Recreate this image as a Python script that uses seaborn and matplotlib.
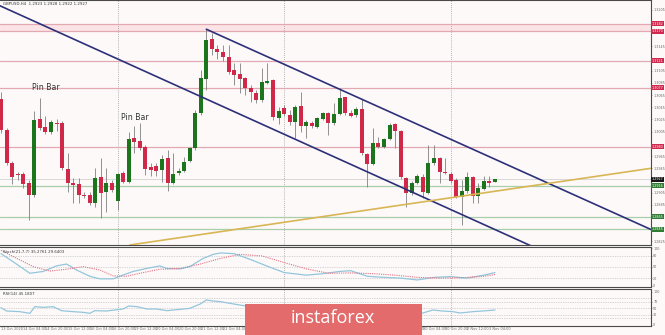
import numpy as np
import pandas as pd
import matplotlib
matplotlib.use("Agg")
import matplotlib.pyplot as plt
import matplotlib.transforms as mtransforms
from matplotlib.patches import Rectangle
import seaborn as sns

# ---------------- data ----------------
opens = [1.3059,1.3008,1.2954,1.2936,1.2936,1.2921,1.2901,1.3026,1.3013,1.3005,
         1.3019,1.3019,1.2944,1.2921,1.2919,1.2901,1.2901,1.2888,1.2931,1.2906,
         1.2921,1.2891,1.2937,1.2923,1.2995,1.2990,1.2980,1.2947,1.2949,1.2942,
         1.2962,1.2921,1.2937,1.2941,1.2957,1.2978,1.3036,1.3091,1.3157,1.3141,
         1.3136,1.3128,1.3106,1.3100,1.3093,1.3077,1.3068,1.3057,1.3085,1.3090,
         1.3027,1.3044,1.3032,1.3021,1.3047,1.3014,1.3019,1.3013,1.3026,1.3036,
         1.3019,1.3034,1.3062,1.3036,1.3032,1.3042,1.2968,1.2952,1.2986,1.2980,
         1.2993,1.3018,1.3006,1.2929,1.2904,1.2921,1.2931,1.2904,1.2954,1.2962,
         1.2939,1.2936,1.2926,1.2898,1.2908,1.2931,1.2900,1.2911,1.2924,1.2923]
highs = [1.3070,1.3011,1.2957,1.2939,1.2939,1.2926,1.3039,1.3060,1.3031,1.3024,
         1.3026,1.3023,1.2970,1.2929,1.2929,1.2906,1.2906,1.2945,1.2962,1.2945,
         1.2926,1.2937,1.2941,1.3005,1.3014,1.3019,1.2983,1.2954,1.2954,1.2967,
         1.2975,1.2970,1.2945,1.2964,1.2980,1.3041,1.3106,1.3173,1.3167,1.3147,
         1.3147,1.3147,1.3118,1.3118,1.3095,1.3082,1.3073,1.3109,1.3118,1.3091,
         1.3046,1.3049,1.3041,1.3049,1.3070,1.3024,1.3023,1.3029,1.3037,1.3037,
         1.3052,1.3077,1.3062,1.3041,1.3046,1.3059,1.2970,1.3011,1.2996,1.2995,
         1.3019,1.3019,1.3008,1.2931,1.2924,1.2936,1.2936,1.2983,1.2983,1.2964,
         1.2962,1.2939,1.2929,1.2926,1.2939,1.2932,1.2921,1.2932,1.2932,1.2928]
lows = [1.3003,1.2950,1.2919,1.2926,1.2913,1.2860,1.2898,1.3008,1.3001,1.3001,
        1.3006,1.2942,1.2906,1.2888,1.2888,1.2896,1.2885,1.2882,1.2863,1.2873,
        1.2906,1.2877,1.2921,1.2921,1.2970,1.2975,1.2934,1.2932,1.2932,1.2923,
        1.2908,1.2919,1.2934,1.2939,1.2955,1.2975,1.3032,1.3073,1.3131,1.3124,
        1.3121,1.3100,1.3082,1.3068,1.3065,1.3054,1.3052,1.3054,1.3083,1.3024,
        1.3018,1.3031,1.3016,1.2995,1.3005,1.2995,1.3011,1.3011,1.3024,1.3000,
        1.3016,1.3032,1.3032,1.3029,1.3029,1.2967,1.2914,1.2950,1.2978,1.2978,
        1.2991,1.2978,1.2927,1.2882,1.2901,1.2919,1.2896,1.2903,1.2950,1.2921,
        1.2936,1.2921,1.2896,1.2852,1.2904,1.2888,1.2888,1.2909,1.2914,1.2922]
closes = [1.3008,1.2954,1.2931,1.2934,1.2919,1.2901,1.3024,1.3011,1.3005,1.3021,
          1.3018,1.2945,1.2921,1.2918,1.2901,1.2900,1.2888,1.2929,1.2904,1.2921,
          1.2909,1.2936,1.2923,1.2993,1.2988,1.2978,1.2944,1.2942,1.2941,1.2960,
          1.2921,1.2936,1.2941,1.2955,1.2978,1.3036,1.3093,1.3155,1.3141,1.3136,
          1.3128,1.3103,1.3098,1.3091,1.3077,1.3070,1.3057,1.3087,1.3088,1.3029,
          1.3039,1.3034,1.3021,1.3046,1.3014,1.3021,1.3014,1.3027,1.3036,1.3019,
          1.3034,1.3060,1.3036,1.3031,1.3042,1.2970,1.2952,1.2986,1.2980,1.2993,
          1.3016,1.3006,1.2931,1.2904,1.2921,1.2932,1.2906,1.2954,1.2962,1.2939,
          1.2937,1.2924,1.2898,1.2908,1.2931,1.2900,1.2913,1.2924,1.2921,1.2927]

date_label_pos = [0,4,8,12,16,20,24,28,32,36,40,44,48,52,56,60,64,68,72,76,80,84,88]
date_labels = ["13 Oct 2020","14 Oct 04:00","14 Oct 20:00","15 Oct 12:00","16 Oct 04:00",
               "16 Oct 20:00","19 Oct 12:00","20 Oct 04:00","20 Oct 20:00","21 Oct 12:00",
               "22 Oct 04:00","22 Oct 20:00","23 Oct 12:00","26 Oct 04:00","26 Oct 20:00",
               "27 Oct 12:00","28 Oct 04:00","28 Oct 20:00","29 Oct 12:00","30 Oct 04:00",
               "30 Oct 20:00","2 Nov 12:00","3 Nov 04:00"]
vgrid_pos = [21, 51, 81]

price_ticks = [1.3205,1.3185,1.3165,1.3145,1.3125,1.3105,1.3085,1.3065,1.3045,1.3025,
               1.3005,1.2985,1.2965,1.2945,1.2925,1.2905,1.2885,1.2865,1.2845,1.2825]
resistance_levels = [1.3182, 1.3170, 1.3121, 1.3077, 1.2980]
support_levels = [1.2916, 1.2865, 1.2845]
current_price = 1.2927

upper_channel_x = [37, 117.2]
upper_channel_y = [1.3173, 1.2844]
lower_channel_x = [-0.3, 100]
lower_channel_y = [1.3212, 1.2799]
support_line_x = [23.2, 117.2]
support_line_y = [1.2819, 1.2945]

pinbar_x = [8.1, 24.1]
pinbar_y = [1.3077, 1.3029]

stoch_k_x = [0, 2.2, 5.2, 7.6, 10, 11.8, 13.6, 16, 17.8, 20.2, 21.4, 23.8, 26.2, 28.6, 29.9,
             32.3, 34, 36.4, 38.2, 39.5, 42, 45, 48, 51, 55, 58, 61, 63, 66, 69, 72, 75,
             78, 81, 84, 87, 89]
stoch_k = [86, 64, 33, 38, 53, 58, 42, 25, 18, 18, 25, 38, 46, 53, 46, 45, 51, 73, 84, 88,
           86, 70, 52, 35, 28, 32, 38, 40, 25, 22, 20, 15, 22, 24, 20, 28, 35]
stoch_d_x = [0, 2.9, 5.8, 8.8, 11.8, 14.8, 17.8, 20.2, 22.6, 25, 28.6, 32.3, 35.9, 39.5,
             43, 47, 51, 55, 59, 63, 67, 71, 75, 79, 83, 87, 89]
stoch_d = [95, 73, 51, 39, 44, 51, 42, 26, 25, 33, 44, 46, 58, 73, 84, 80, 62, 45, 33, 34,
           32, 28, 22, 20, 21, 25, 29.6]
rsi_x = [0, 1, 3.4, 5.2, 6.1, 7.6, 9.4, 10.9, 13, 14.8, 16, 16.9, 19, 20.5, 22, 23, 24.5,
         26.3, 28, 29.9, 32.3, 34, 35.9, 37, 38.2, 39.5, 43, 46, 49, 52, 55, 58, 61, 64,
         66, 68, 70, 72, 74, 76, 77.8, 79.5, 81.4, 82.7, 85, 87.6, 89]
rsi = [52, 42, 40, 35, 55, 53, 55, 43, 40, 38, 35, 43, 42, 45, 48, 57, 55, 48, 48, 43, 47,
       50, 63, 75, 72, 70, 60, 52, 42, 44, 45, 46, 50, 50, 38, 44, 48, 40, 34, 36, 45, 42,
       40, 36, 40, 43, 45]

# ---------------- style ----------------
sns.set_style("white")
plt.rcParams["font.family"] = ["DejaVu Sans"]
BG = "#fdf9f9"
BULL = "#1c741c"
BEAR = "#d02848"
WICK = "#808080"
NAVY = "#2c3079"
GOLD = "#d8b656"
PINK = "#e2a9b3"
GREEN_L = "#a9cfa9"
SPINE = "#4a4a4a"
TICKC = "#666666"
FSA = 2.45    # right-axis labels
FSC = 2.75    # captions

W, H = 665, 335
fig = plt.figure(figsize=(W / 100, H / 100), dpi=100, facecolor=BG)

def fr(x0, y0, x1, y1):
    return [x0 / W, 1 - y1 / H, (x1 - x0) / W, (y1 - y0) / H]

ax = fig.add_axes(fr(0, 0, 651, 245))
ax_s = fig.add_axes(fr(0, 247, 651, 287), sharex=ax)
ax_r = fig.add_axes(fr(0, 289, 651, 326), sharex=ax)

XLIM = (-0.18, 117.1)
for a in (ax, ax_s, ax_r):
    a.set_facecolor(BG)
    for s in a.spines.values():
        s.set_color(SPINE)
        s.set_linewidth(0.8)
    a.spines["left"].set_visible(False)
    a.yaxis.tick_right()
    a.tick_params(axis="y", labelsize=FSA, colors=TICKC, length=1.0, width=0.4, pad=0.6)
    a.tick_params(axis="x", length=0)
    for v in vgrid_pos:
        a.axvline(v, color="#9a9a9a", lw=0.6, ls=(0, (1, 1.5)), zorder=1)

# ---------------- main panel ----------------
df = pd.DataFrame({"open": opens, "high": highs, "low": lows, "close": closes})
df["idx"] = np.arange(len(df))
up = df["close"] >= df["open"]
colors = np.where(up, BULL, BEAR)

ax.axhspan(resistance_levels[1], resistance_levels[0], color="#fbe3e6", lw=0, zorder=0.5)
for lv in resistance_levels:
    ax.axhline(lv, color=PINK, lw=0.9, zorder=1)
for lv in support_levels:
    ax.axhline(lv, color=GREEN_L, lw=0.9, zorder=1)
ax.axhline(current_price, color="#d8d8d8", lw=0.7, zorder=1)

ax.vlines(df["idx"], df["low"], df["high"], color=WICK, lw=0.6, zorder=3)
body = (df["close"] - df["open"]).abs().clip(lower=0.00009)
ax.bar(df["idx"], body, bottom=np.minimum(df["open"], df["close"]), width=0.72,
       color=colors, linewidth=0, zorder=4)

sns.lineplot(x=upper_channel_x, y=upper_channel_y, ax=ax, color=NAVY, lw=1.2, zorder=5)
sns.lineplot(x=lower_channel_x, y=lower_channel_y, ax=ax, color=NAVY, lw=1.2, zorder=5)
sns.lineplot(x=support_line_x, y=support_line_y, ax=ax, color=GOLD, lw=1.2, zorder=5)

for px, py in zip(pinbar_x, pinbar_y):
    ax.text(px, py, "Pin Bar", fontsize=5.6, color="#333333", ha="center", va="center", zorder=6)

ax.set_xlim(*XLIM)
ax.set_ylim(1.2819, 1.3221)
# hide plain tick labels that sit under a boxed level label
boxed = resistance_levels + support_levels + [current_price]
shown_ticks = [t for t in price_ticks if min(abs(t - b) for b in boxed) > 0.0007]
ax.set_yticks(shown_ticks)
ax.set_yticklabels([f"{t:.4f}" for t in shown_ticks])
ax.tick_params(axis="x", labelbottom=False)
ax.set_xlabel("")
ax.set_ylabel("")

tr = mtransforms.blended_transform_factory(ax.transAxes, ax.transData)
def box(a, trf, y, txt, fc):
    a.text(1.0015, y, txt, transform=trf, fontsize=FSA, color="white", ha="left", va="center",
           clip_on=False, zorder=10,
           bbox=dict(boxstyle="square,pad=0.15", fc=fc, ec="none"))
for lv in resistance_levels:
    box(ax, tr, lv, f"{lv:.4f}", "#cf2a4d")
for lv in support_levels:
    box(ax, tr, lv, f"{lv:.4f}", "#2f7d33")
box(ax, tr, current_price, f"{current_price:.4f}", "#151515")

fig.text(3 / W, 1 - 4 / H, "GBPUSD,H4  1.2923 1.2928 1.2922 1.2927", fontsize=FSC,
         color="#333333", ha="left", va="center")

# ---------------- stochastic ----------------
sk = pd.DataFrame({"x": stoch_k_x, "v": stoch_k})
sd = pd.DataFrame({"x": stoch_d_x, "v": stoch_d})
for lv in (80, 50, 20):
    ax_s.axhline(lv, color="#b0b0b0", lw=0.5, ls=(0, (1, 1.5)), zorder=1)
sns.lineplot(data=sk, x="x", y="v", ax=ax_s, color="#93c6db", lw=0.9, zorder=3)
sns.lineplot(data=sd, x="x", y="v", ax=ax_s, color="#e07385", lw=0.8, ls=(0, (1, 1)), zorder=3)
ax_s.set_ylim(-4, 104)
ax_s.set_yticks([100, 80, 50, 20, 0])
ax_s.set_yticklabels(["100", "80", "50", "20", "0"])
ax_s.tick_params(axis="x", labelbottom=False)
ax_s.set_xlabel("")
ax_s.set_ylabel("")
ax_s.text(0.004, 0.93, "Stoch(21,7,7) 35.2761 29.6403", transform=ax_s.transAxes,
          fontsize=FSC, color="#333333", ha="left", va="top")

# ---------------- RSI ----------------
rr = pd.DataFrame({"x": rsi_x, "v": rsi})
for lv in (80, 70, 50, 30, 20):
    ax_r.axhline(lv, color="#b0b0b0", lw=0.5, ls=(0, (1, 1.5)), zorder=1)
sns.lineplot(data=rr, x="x", y="v", ax=ax_r, color="#93c6db", lw=0.9, zorder=3)
ax_r.set_ylim(-3, 108)
ax_r.set_yticks([100, 70, 50, 30, 0])
ax_r.set_yticklabels(["100", "70", "50", "30", "0"])
ax_r.set_xticks(date_label_pos)
ax_r.set_xticklabels(date_labels, fontsize=2.55, color=TICKC, ha="left")
ax_r.tick_params(axis="x", pad=1.0)
ax_r.set_xlabel("")
ax_r.set_ylabel("")
ax_r.set_xlim(*XLIM)
ax_r.text(0.004, 0.93, "RSI(14) 45.1807", transform=ax_r.transAxes,
          fontsize=FSC, color="#333333", ha="left", va="top")

# ---------------- watermark ----------------
fig.patches.append(Rectangle((245 / W, 0), 177 / W, 31 / H, transform=fig.transFigure,
                             facecolor="#e36b6b", edgecolor="none", zorder=20))
fig.text(333 / W, 1 - 318 / H, "instaforex", fontsize=13, color="white",
         family=["Open Sans", "DejaVu Sans"], ha="center", va="center", zorder=21)

fig.savefig("out.png", dpi=100, facecolor=BG)
